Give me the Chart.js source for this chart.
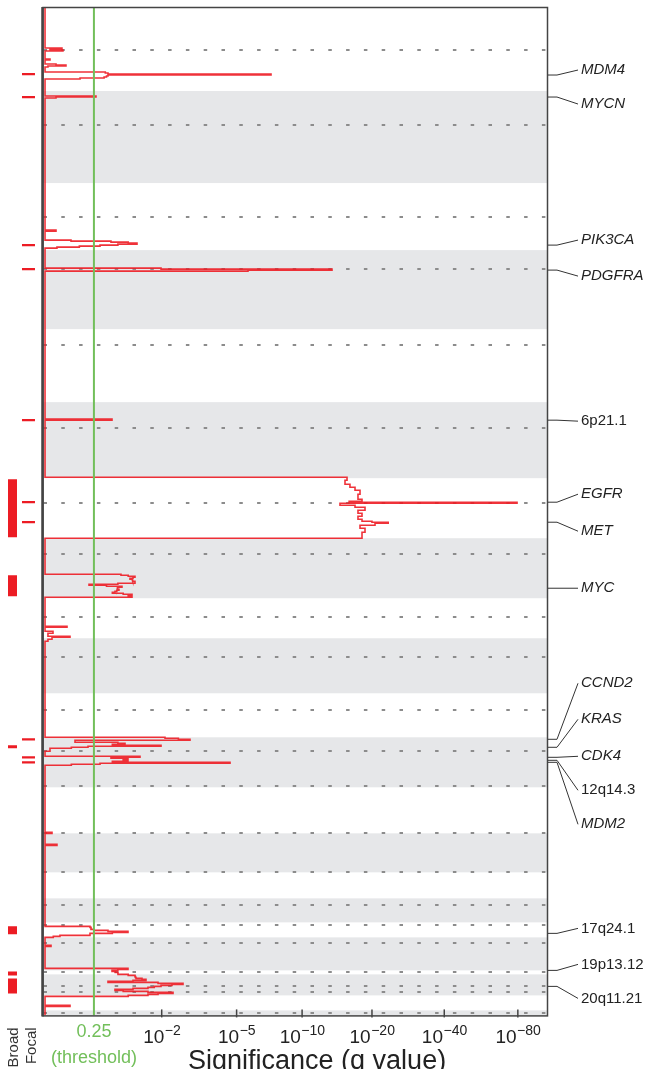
<!DOCTYPE html>
<html><head><meta charset="utf-8">
<script src="https://cdn.jsdelivr.net/npm/chart.js@4/dist/chart.umd.min.js"></script>
<style>html,body{margin:0;padding:0;background:#fff}#wrap{width:666px;height:1069px;position:relative}</style>
</head><body><div id="wrap"><canvas id="c" width="666" height="1069"></canvas></div>
<script>
// ---------- DATA ----------
// genome coordinate (marker-index units, 0 = top of chr1)
const genomeEnd = 1008;
const chromNames = ['1','2','3','4','5','6','7','8','9','10','11','12','13','14','15','16','17','18','19','20','21','22'];
const chromStart = [0,84,176,243,322,395,471,531,591,631,686,730,780,826,865,891,915,930,963,967,988,1003];
const centromere = [43,118,210,262,338,421,496,547,610,650,703,744,779,826,865,898,918,936,965,979,985,1006];

// amplification significance profile: segment start and -log10(q) of each segment
const segStart = [
  0,41,42,43,44,52,53,57,58,59,
  60,65,66,67,68,69,70,71,72,89,
  90,91,223,224,233,234,235,236,237,238,
  239,240,241,261,262,263,264,412,413,470,
  473,477,480,483,487,492,494,495,496,498,
  500,503,506,509,512,514,515,516,518,521,
  525,531,567,568,569,570,571,572,573,574,
  575,576,577,578,579,580,581,582,583,584,
  585,586,587,588,589,590,619,620,624,626,
  629,630,632,634,730,731,732,733,735,736,
  737,738,739,740,741,744,749,750,751,752,
  753,754,755,756,757,758,825,826,837,838,
  919,920,921,922,923,924,925,926,927,928,
  929,930,938,939,961,962,963,964,965,966,
  967,968,969,970,971,972,973,974,975,976,
  977,978,979,980,981,982,983,984,985,986,
  987,988,989,998,999];
const segNegLog10Q = [
  0.019,0.192,0.067,0.203,0.019,0.067,0.019,0.128,0.237,0.047,
  0.019,0.78,0.825,7.25,0.825,0.80,0.76,0.409,0.019,0.633,
  0.128,0.019,0.128,0.019,0.296,0.876,1.20,1.387,1.0,0.695,
  0.40,0.138,0.019,1.981,13.51,5.668,0.019,0.894,0.019,15.67,
  15.36,16.13,16.95,17.80,17.45,18.15,16.0,79.4,14.62,16.95,
  18.69,17.45,18.15,17.45,18.15,20.0,23.4,20.6,17.80,18.69,
  18.15,0.019,1.058,1.20,1.343,1.30,1.237,1.28,1.30,1.343,
  1.343,1.0,0.531,0.80,1.077,1.0,0.984,1.02,0.98,0.947,
  0.90,1.1,1.279,1.2,1.279,0.019,0.249,0.019,0.097,0.047,
  0.284,0.087,0.047,0.019,2.093,2.50,2.898,0.345,1.0,1.136,
  0.9,1.981,0.517,0.3,0.067,0.019,1.454,0.876,1.196,1.10,
  1.196,0.9,4.645,0.695,0.30,0.019,0.087,0.019,0.138,0.019,
  0.545,0.56,0.559,0.60,0.825,1.196,0.9,0.545,0.545,0.170,
  0.10,0.019,0.077,0.019,1.196,1.0,0.894,0.95,1.0,1.002,
  1.2,1.343,1.35,1.365,1.5,1.594,1.3,0.825,1.9,2.654,
  2.3,1.981,1.8,1.642,1.3,0.947,1.1,1.642,2.331,1.9,
  1.642,1.2,0.019,0.284,0.019];

// broad events (start,end) and focal peaks
const broadStart = [472,568,738,919,964,971];
const broadEnd   = [530,589,741,927,968,986];
const focalPeaks = [67,90,238,262,413,495,515,732,750,755];

// peak labels
const peakLabels = ['MDM4','MYCN','PIK3CA','PDGFRA','6p21.1','EGFR','MET','MYC','CCND2','KRAS','CDK4','12q14.3','MDM2','17q24.1','19p13.12','20q11.21'];
const peakPos    = [68,90,238,263,413,495,515,581,732,740,750,753,755,926,963,979];
const peakIsGene = [1,1,1,1,0,1,1,1,1,1,1,0,1,0,0,0];

// x ticks (q values) and their labels
const qThreshold = 0.25;
const tickQ    = [0.25, 1e-2, 1e-5, 1e-10, 1e-20, 1e-40, 1e-80];
const tickBase = ['0.25','10','10','10','10','10','10'];
const tickSup  = ['','\u22122','\u22125','\u221210','\u221220','\u221240','\u221280'];

// ---------- LAYOUT (not data) ----------
const labelSlot = [63,97,233,269,414,487,524,581,676,712,749,783,817,921,957,991];
const broadLane = -0.1226, focalLane = [-0.0844,-0.0322];
const FONT = "'Liberation Sans', Arial, Helvetica, sans-serif";
const RED = 'rgba(237,28,36,0.9)', GREEN = '#72bf5a', GREY = '#e6e7e9';

// axis transform: log10(1 + -log10 q)
const tr = s => Math.log10(1 + s);
const trQ = q => tr(-Math.log10(q));

const profile = [];
for (let i = 0; i < segStart.length; i++) {
  const end = i + 1 < segStart.length ? segStart[i+1] : genomeEnd;
  const v = tr(segNegLog10Q[i]);
  profile.push({x: v, y: segStart[i]}, {x: v, y: end});
}

const datasets = [];
datasets.push({label:'threshold', data:[{x:trQ(qThreshold),y:0},{x:trQ(qThreshold),y:genomeEnd}],
  showLine:true, borderColor:GREEN, borderWidth:2, pointRadius:0, order:0});
datasets.push({label:'G-score', data:profile, showLine:true, borderColor:RED, borderWidth:1.6,
  pointRadius:0, tension:0, order:1, borderJoinStyle:'miter'});
broadStart.forEach((s,i)=>datasets.push({label:'broad', data:[{x:broadLane,y:s},{x:broadLane,y:broadEnd[i]}],
  showLine:true, borderColor:'#ec1c24', borderWidth:9, borderCapStyle:'butt', pointRadius:0, order:2}));
focalPeaks.forEach(p=>datasets.push({label:'focal', data:[{x:focalLane[0],y:p},{x:focalLane[1],y:p}],
  showLine:true, borderColor:'#ec1c24', borderWidth:2.2, borderCapStyle:'butt', pointRadius:0, order:2}));

const decor = {
  id:'decor',
  beforeDatasetsDraw(chart){
    const {ctx, chartArea:a, scales:{x,y}} = chart;
    const x0 = x.getPixelForValue(0);
    ctx.save();
    ctx.fillStyle = GREY;
    chromStart.forEach((s,i)=>{
      if (i % 2 === 1) {
        const e = i+1<chromStart.length ? chromStart[i+1] : genomeEnd;
        const y0 = y.getPixelForValue(s), y1 = y.getPixelForValue(e);
        ctx.fillRect(x0, y0, a.right - x0, y1 - y0);
      }
    });
    ctx.strokeStyle = '#8c8c8c'; ctx.lineWidth = 2; ctx.setLineDash([3.5,14.3]);
    centromere.forEach(c=>{
      const yy = Math.round(y.getPixelForValue(c));
      ctx.beginPath(); ctx.moveTo(x0+0.5, yy); ctx.lineTo(a.right, yy); ctx.stroke();
    });
    ctx.restore();
  },
  afterDatasetsDraw(chart){
    const {ctx, chartArea:a, scales:{x,y}} = chart;
    const x0 = x.getPixelForValue(0);
    ctx.save();
    // frame
    ctx.strokeStyle = '#444'; ctx.lineWidth = 1.5;
    ctx.strokeRect(x0, a.top+0.5, a.right - x0 - 0.5, a.bottom - a.top);
    ctx.lineWidth = 2.5; ctx.beginPath(); ctx.moveTo(x0-0.5, a.top); ctx.lineTo(x0-0.5, a.bottom+1); ctx.stroke();
    // tick marks and tick labels
    ctx.lineWidth = 1.5;
    tickQ.forEach((q,i)=>{
      const px = x.getPixelForValue(trQ(q));
      if (i > 0) { ctx.beginPath(); ctx.moveTo(px, a.bottom-6); ctx.lineTo(px, a.bottom+2); ctx.stroke(); }
      ctx.textBaseline = 'alphabetic'; ctx.textAlign = 'left';
      if (!tickSup[i]) {
        ctx.font = '18px ' + FONT; ctx.fillStyle = q === qThreshold ? GREEN : '#222';
        const w = ctx.measureText(tickBase[i]).width;
        ctx.fillText(tickBase[i], px - w/2, a.bottom + 22);
      } else {
        ctx.fillStyle = '#222';
        ctx.font = '19px ' + FONT; const wb = ctx.measureText(tickBase[i]).width;
        ctx.font = '14px ' + FONT; const ws = ctx.measureText(tickSup[i]).width;
        const left = px - (wb + ws)/2;
        ctx.font = '19px ' + FONT; ctx.fillText(tickBase[i], left, a.bottom + 28);
        ctx.font = '14px ' + FONT; ctx.fillText(tickSup[i], left + wb + 0.5, a.bottom + 20);
      }
    });
    // labels with leaders
    ctx.strokeStyle = '#333'; ctx.lineWidth = 1; ctx.fillStyle = '#222'; ctx.textBaseline = 'middle'; ctx.textAlign = 'left';
    peakLabels.forEach((lab,i)=>{
      const yp = y.getPixelForValue(peakPos[i]), yl = y.getPixelForValue(labelSlot[i]);
      ctx.beginPath(); ctx.moveTo(a.right, yp); ctx.lineTo(a.right+9, yp); ctx.lineTo(a.right+30, yl); ctx.stroke();
      ctx.font = (peakIsGene[i] ? 'italic ' : '') + '15px ' + FONT;
      ctx.fillText(lab, a.right+33, yl);
    });
    // Broad / Focal headers
    ctx.font = '15px ' + FONT; ctx.fillStyle = '#333'; ctx.textAlign = 'right'; ctx.textBaseline = 'middle';
    [['Broad', broadLane, 1], ['Focal', (focalLane[0]+focalLane[1])/2, 3]].forEach(([t,v,d])=>{
      ctx.save(); ctx.translate(x.getPixelForValue(v)+d, a.bottom+12); ctx.rotate(-Math.PI/2);
      ctx.fillText(t, 0, 0); ctx.restore();
    });
    // threshold caption
    ctx.textAlign = 'center'; ctx.textBaseline = 'middle'; ctx.fillStyle = GREEN;
    ctx.font = '18px ' + FONT;
    ctx.fillText('(threshold)', x.getPixelForValue(trQ(qThreshold)), a.bottom + 43);
    // axis title
    ctx.fillStyle = '#222'; ctx.textAlign = 'left'; ctx.textBaseline = 'alphabetic';
    ctx.font = '27px ' + FONT;
    ctx.fillText('Significance (q value)', 188, 1069);
    ctx.restore();
  }
};

new Chart(document.getElementById('c'), {
  type:'scatter',
  data:{datasets},
  options:{
    responsive:false, animation:false, devicePixelRatio:1,
    layout:{padding:{top:7,right:118,bottom:10,left:0}},
    plugins:{legend:{display:false}, tooltip:{enabled:false}},
    elements:{line:{tension:0}},
    scales:{
      x:{type:'linear', min:-0.1728, max:2.0297,
        afterBuildTicks: s => { s.ticks = tickQ.map(q=>({value: trQ(q)})); },
        grid:{display:false, drawTicks:false}, border:{display:false},
        ticks:{autoSkip:false, maxRotation:0, padding:11, font:{family:FONT, size:18},
          color:'rgba(0,0,0,0)', callback:()=>' '}},
      y:{type:'linear', reverse:true, min:0, max:genomeEnd, display:false}
    }
  },
  plugins:[decor]
});
</script></body></html>
